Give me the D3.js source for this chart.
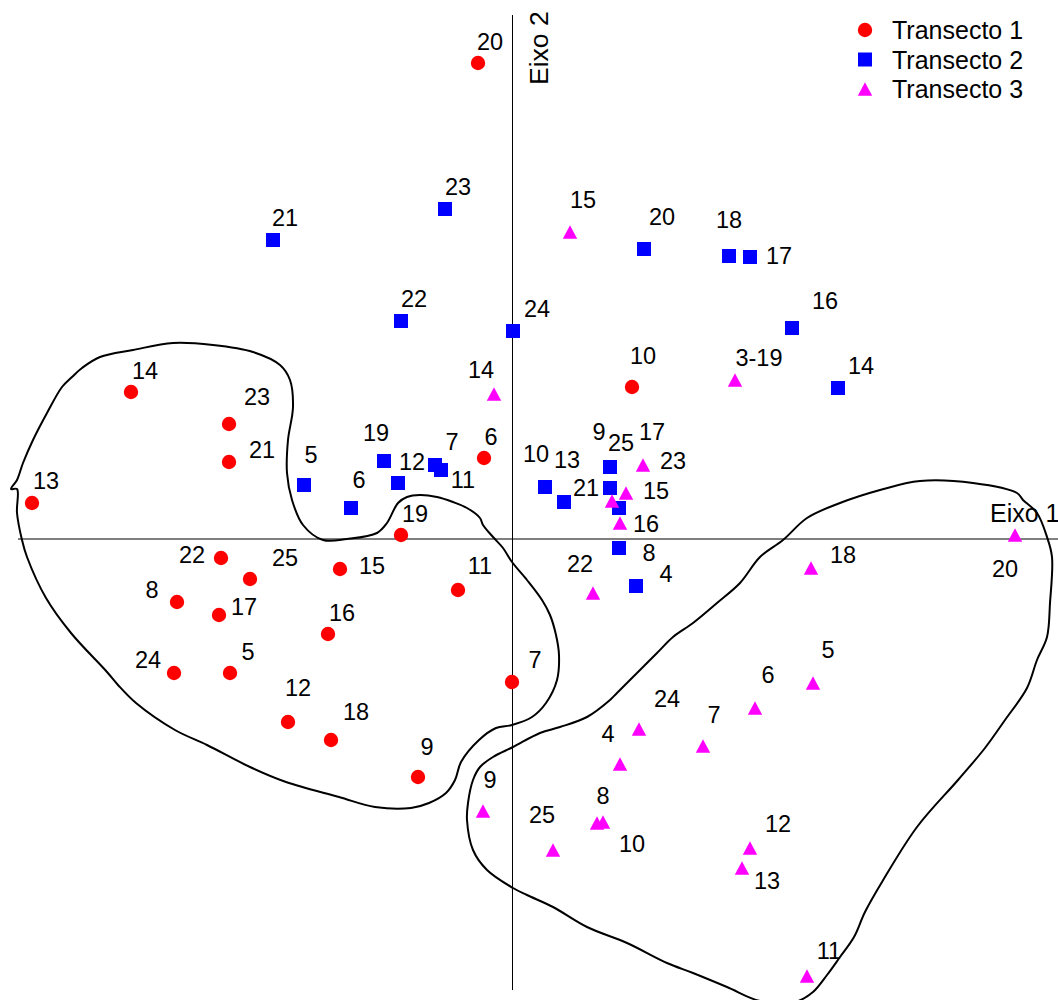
<!DOCTYPE html>
<html>
<head>
<meta charset="utf-8">
<script src="https://cdn.jsdelivr.net/npm/d3@7"></script>
<style>
body { margin: 0; background: #fff; }
text { font-family: Arial, "Liberation Sans", sans-serif; fill: #000; }
</style>
</head>
<body>
<script>
// scores: [label, eixo 1, eixo 2, label eixo 1, label eixo 2]
var transecto1 = [
  ["20", -0.34, 4.76, -0.22, 4.97],
  ["14", -3.81, 1.47, -3.67, 1.68],
  ["23", -2.83, 1.15, -2.55, 1.42],
  ["21", -2.83, 0.77, -2.50, 0.89],
  ["13", -4.80, 0.36, -4.66, 0.58],
  ["10", 1.20, 1.52, 1.31, 1.83],
  ["6", -0.28, 0.81, -0.21, 1.02],
  ["19", -1.11, 0.04, -0.97, 0.25],
  ["22", -2.91, -0.19, -3.20, -0.16],
  ["25", -2.62, -0.40, -2.27, -0.19],
  ["15", -1.72, -0.30, -1.40, -0.27],
  ["8", -3.35, -0.63, -3.60, -0.51],
  ["17", -2.93, -0.76, -2.68, -0.68],
  ["11", -0.54, -0.51, -0.32, -0.27],
  ["16", -1.84, -0.95, -1.70, -0.74],
  ["24", -3.38, -1.34, -3.64, -1.21],
  ["5", -2.82, -1.34, -2.64, -1.13],
  ["12", -2.24, -1.83, -2.14, -1.49],
  ["18", -1.81, -2.01, -1.56, -1.73],
  ["9", -0.94, -2.38, -0.85, -2.08],
  ["7", 0.00, -1.43, 0.23, -1.21]
];
var transecto2 = [
  ["21", -2.39, 2.99, -2.27, 3.21],
  ["23", -0.67, 3.30, -0.54, 3.52],
  ["22", -1.11, 2.18, -0.98, 2.40],
  ["24", 0.01, 2.08, 0.25, 2.30],
  ["20", 1.32, 2.90, 1.50, 3.22],
  ["18", 2.17, 2.83, 2.17, 3.19],
  ["17", 2.38, 2.82, 2.67, 2.83],
  ["16", 2.80, 2.11, 3.13, 2.38],
  ["14", 3.26, 1.51, 3.49, 1.73],
  ["5", -2.08, 0.54, -2.01, 0.84],
  ["19", -1.28, 0.78, -1.36, 1.06],
  ["6", -1.61, 0.31, -1.53, 0.59],
  ["12", -1.14, 0.56, -1.00, 0.77],
  ["7", -0.77, 0.74, -0.60, 0.97],
  ["11", -0.71, 0.69, -0.49, 0.59],
  ["10", 0.33, 0.52, 0.24, 0.85],
  ["13", 0.52, 0.37, 0.55, 0.79],
  ["9", 0.98, 0.72, 0.87, 1.07],
  ["21", 0.98, 0.51, 0.74, 0.51],
  ["25", 1.07, 0.31, 1.09, 0.96],
  ["8", 1.07, -0.09, 1.37, -0.14],
  ["4", 1.24, -0.47, 1.54, -0.35]
];
var transecto3 = [
  ["15", 0.58, 3.07, 0.71, 3.39],
  ["14", -0.18, 1.45, -0.31, 1.69],
  ["3-19", 2.23, 1.59, 2.47, 1.81],
  ["23", 1.31, 0.74, 1.61, 0.78],
  ["15", 1.14, 0.46, 1.44, 0.48],
  ["17", 1.00, 0.38, 1.40, 1.07],
  ["16", 1.08, 0.16, 1.34, 0.15],
  ["22", 0.81, -0.54, 0.68, -0.25],
  ["18", 2.99, -0.29, 3.31, -0.16],
  ["20", 5.03, 0.04, 4.93, -0.30],
  ["5", 3.01, -1.44, 3.16, -1.11],
  ["6", 2.43, -1.69, 2.56, -1.36],
  ["24", 1.27, -1.90, 1.55, -1.60],
  ["7", 1.91, -2.07, 2.02, -1.76],
  ["4", 1.08, -2.25, 0.96, -1.95],
  ["9", -0.29, -2.72, -0.22, -2.41],
  ["8", 0.85, -2.84, 0.91, -2.57],
  ["10", 0.91, -2.83, 1.20, -3.05],
  ["25", 0.41, -3.11, 0.30, -2.76],
  ["12", 2.38, -3.09, 2.66, -2.85],
  ["13", 2.30, -3.29, 2.55, -3.42],
  ["11", 2.95, -4.37, 3.17, -4.12]
];
var legendNames = ["Transecto 1", "Transecto 2", "Transecto 3"];
var axisNames = ["Eixo 1", "Eixo 2"];

// hand drawn groups (eixo 1, eixo 2)
var grupoEsq = [
  [-4.95, 0.59], [-4.89, 0.76], [-4.79, 0.99], [-4.65, 1.26], [-4.50, 1.52],
  [-4.40, 1.62], [-4.30, 1.71], [-4.12, 1.82], [-3.79, 1.89], [-3.39, 1.96],
  [-2.99, 1.94], [-2.59, 1.87], [-2.32, 1.74], [-2.22, 1.59], [-2.19, 1.32],
  [-2.24, 0.99], [-2.25, 0.66], [-2.20, 0.39], [-2.09, 0.14], [-1.89, -0.01],
  [-1.65, 0.00], [-1.35, 0.06], [-1.25, 0.16], [-1.14, 0.36], [-1.05, 0.42],
  [-0.92, 0.44], [-0.75, 0.42], [-0.59, 0.37], [-0.45, 0.31], [-0.32, 0.21],
  [-0.29, 0.14], [-0.19, 0.02], [-0.09, -0.09], [0.00, -0.23], [0.15, -0.41],
  [0.30, -0.61], [0.38, -0.76], [0.44, -0.96], [0.47, -1.16], [0.45, -1.41],
  [0.34, -1.64], [0.20, -1.78], [0.00, -1.86], [-0.16, -1.89], [-0.33, -2.01],
  [-0.51, -2.23], [-0.57, -2.41], [-0.66, -2.54], [-0.83, -2.64], [-1.01, -2.69],
  [-1.37, -2.68], [-1.73, -2.58], [-2.26, -2.43], [-2.62, -2.28], [-3.05, -2.06],
  [-3.37, -1.91], [-3.76, -1.64], [-3.94, -1.46], [-4.05, -1.33], [-4.41, -0.94],
  [-4.66, -0.59], [-4.85, -0.18], [-4.90, -0.01], [-4.95, 0.26], [-4.95, 0.50],
  [-5.01, 0.50]
];
var grupoDir = [
  [1.05, -1.54], [1.25, -1.34], [1.45, -1.14], [1.61, -0.98], [1.81, -0.84],
  [2.05, -0.64], [2.28, -0.44], [2.48, -0.18], [2.71, -0.01], [2.95, 0.21],
  [3.28, 0.36], [3.68, 0.49], [4.08, 0.58], [4.61, 0.56], [5.05, 0.46],
  [5.11, 0.39], [5.25, 0.26], [5.35, 0.02], [5.40, -0.18], [5.38, -0.64],
  [5.35, -0.98], [5.25, -1.21], [5.15, -1.49], [4.93, -1.81], [4.73, -2.09],
  [4.46, -2.41], [4.05, -2.88], [3.70, -3.43], [3.53, -3.73], [3.42, -3.98],
  [3.28, -4.18], [3.15, -4.36], [3.01, -4.53], [2.83, -4.63], [2.48, -4.62],
  [2.15, -4.48], [1.81, -4.34], [1.55, -4.24], [1.15, -4.04], [0.75, -3.88],
  [0.41, -3.68], [0.15, -3.56], [0.01, -3.49], [-0.25, -3.31], [-0.39, -3.11],
  [-0.45, -2.81], [-0.44, -2.64], [-0.39, -2.41], [-0.32, -2.28], [-0.19, -2.18],
  [0.01, -2.08], [0.28, -1.94], [0.48, -1.88], [0.75, -1.78], [0.98, -1.61]
];
var eixo1Range = [-4.94, 5.46];
var eixo2Range = [-4.51, 5.24];

var width = 1058, height = 1000;

var svg = d3.select("body").append("svg")
  .attr("width", width)
  .attr("height", height);

var x = d3.scaleLinear().domain([-5.12, 5.46]).range([0, width]);
var y = d3.scaleLinear().domain([-4.61, 5.39]).range([height, 0]);

// axes through the origin
svg.append("line")
  .attr("x1", x(eixo1Range[0])).attr("x2", x(eixo1Range[1]))
  .attr("y1", y(0)).attr("y2", y(0))
  .attr("stroke", "#555").attr("stroke-width", 1.5);
svg.append("line")
  .attr("x1", x(0) + 0.5).attr("x2", x(0) + 0.5)
  .attr("y1", y(eixo2Range[1])).attr("y2", y(eixo2Range[0]))
  .attr("stroke", "#000").attr("stroke-width", 1);

var outline = d3.line()
  .x(function(d) { return x(d[0]); })
  .y(function(d) { return y(d[1]); })
  .curve(d3.curveCatmullRomClosed);

[grupoEsq, grupoDir].forEach(function(g) {
  svg.append("path")
    .attr("d", outline(g))
    .attr("fill", "none")
    .attr("stroke", "#000")
    .attr("stroke-width", 2);
});

var tri = "M0,-6.8L7.2,6.8L-7.2,6.8Z";

function drawMark(sel, kind, color) {
  if (kind == 0) {
    sel.append("circle").attr("r", 7.2).attr("fill", color);
  } else if (kind == 1) {
    sel.append("rect").attr("x", -7).attr("y", -7)
      .attr("width", 14).attr("height", 14).attr("fill", color);
  } else {
    sel.append("path").attr("d", tri).attr("fill", color);
  }
}

var series = [transecto1, transecto2, transecto3];
var colors = ["#ff0000", "#0000ff", "#ff00ff"];

series.forEach(function(data, i) {
  var g = svg.append("g");
  var pts = g.selectAll("g.pt").data(data).enter().append("g")
    .attr("class", "pt")
    .attr("transform", function(d) { return "translate(" + x(d[1]) + "," + y(d[2]) + ")"; });
  drawMark(pts, i, colors[i]);

  g.selectAll("text").data(data).enter().append("text")
    .attr("x", function(d) { return x(d[3]); })
    .attr("y", function(d) { return y(d[4]); })
    .attr("dy", "0.36em")
    .attr("text-anchor", "middle")
    .style("font-size", "23.5px")
    .text(function(d) { return d[0]; });
});

// axis titles
svg.append("text")
  .attr("x", x(4.78)).attr("y", y(0) - 17)
  .style("font-size", "25px")
  .text(axisNames[0]);
svg.append("text")
  .attr("transform", "translate(" + (x(0) + 36) + "," + (y(0) - 454) + ") rotate(-90)")
  .style("font-size", "26.5px")
  .text(axisNames[1]);

// legend
var legend = svg.append("g").attr("transform", "translate(865,30)");
legendNames.forEach(function(name, i) {
  var row = legend.append("g").attr("transform", "translate(0," + (i * 29.5) + ")");
  drawMark(row, i, colors[i]);
  row.append("text")
    .attr("x", 27).attr("dy", "0.36em")
    .style("font-size", "25px")
    .text(name);
});
</script>
</body>
</html>
